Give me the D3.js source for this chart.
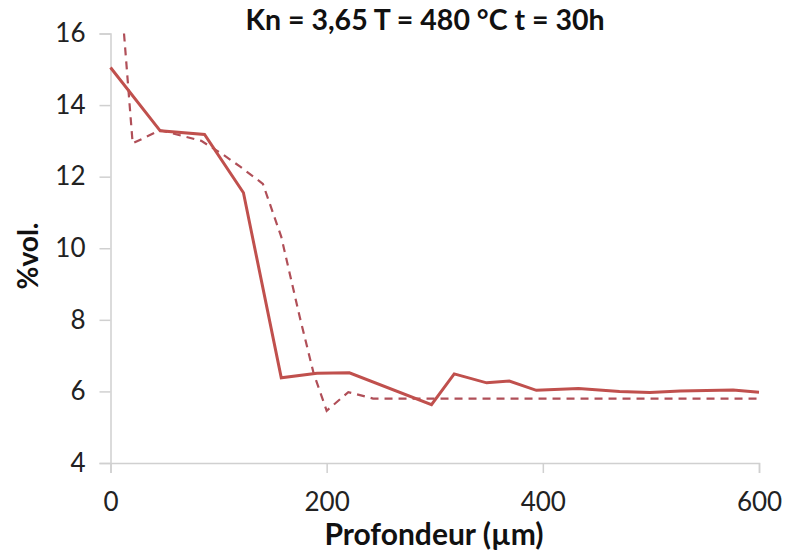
<!DOCTYPE html>
<html><head><meta charset="utf-8">
<script src="https://cdn.jsdelivr.net/npm/d3@7"></script>
<style>body{margin:0;background:#fff}svg{display:block}</style>
</head><body>
<svg id="c" width="787" height="554"></svg>
<script>
const titleText = "Kn = 3,65 T = 480 °C t = 30h";
const xLabel = "Profondeur (µm)";
const yLabel = "%vol.";
const xTicks = [0, 200, 400, 600];
const yTicks = [4, 6, 8, 10, 12, 14, 16];

// measured series (solid)
const solidX = [0, 46, 87, 123, 158, 191, 221, 297, 318, 348, 369, 394, 433, 471, 499, 527, 576, 600];
const solidY = [15.05, 13.28, 13.18, 11.55, 6.38, 6.51, 6.52, 5.63, 6.49, 6.24, 6.29, 6.03, 6.08, 6.0, 5.97, 6.01, 6.04, 5.98];
// model series (dashed)
const dashX = [12.5, 20.5, 46, 84, 104, 120, 141, 158, 175, 188, 200, 220, 243, 600];
const dashY = [16.0, 12.93, 13.3, 13.0, 12.62, 12.28, 11.8, 10.32, 8.09, 6.5, 5.46, 5.98, 5.8, 5.8];

const svg = d3.select("#c");
const x = d3.scaleLinear().domain([0, 600]).range([110.5, 759]);
const y = d3.scaleLinear().domain([4, 16]).range([463, 33.5]);
const axisColor = "#d0d0d0";
const font = "Lato, 'Open Sans', sans-serif";

const gx = svg.append("g").attr("transform", `translate(0,${y(4)})`)
  .call(d3.axisBottom(x).tickValues(xTicks).tickSize(10).tickPadding(20).tickFormat(d3.format("d")));
const gy = svg.append("g").attr("transform", `translate(${x(0)},0)`)
  .call(d3.axisLeft(y).tickValues(yTicks).tickSize(11).tickPadding(14).tickFormat(d3.format("d")));
[gx, gy].forEach(g => {
  g.select(".domain").attr("stroke", axisColor).attr("stroke-width", 1.5);
  g.selectAll(".tick line").attr("stroke", axisColor).attr("stroke-width", 1.5);
  g.selectAll(".tick text").attr("fill", "#222").style("font-family", font).style("font-size", "26px");
});

const solid = solidX.map((v, i) => [v, solidY[i]]);
const dash = dashX.map((v, i) => [v, dashY[i]]);
const line = d3.line().x(d => x(d[0])).y(d => y(d[1]));

svg.append("path").attr("d", line(dash)).attr("fill", "none")
  .attr("stroke", "#b04f58").attr("stroke-width", 2.2).attr("stroke-dasharray", "8,6");
svg.append("path").attr("d", line(solid)).attr("fill", "none")
  .attr("stroke", "#c0504d").attr("stroke-width", 3).attr("stroke-linejoin", "miter");

svg.append("text").attr("x", 425).attr("y", 30).attr("text-anchor", "middle")
  .style("font-family", font).style("font-weight", "bold").style("font-size", "28.5px").attr("fill", "#111")
  .text(titleText);
svg.append("text").attr("x", 434).attr("y", 545).attr("text-anchor", "middle")
  .style("font-family", font).style("font-weight", "bold").style("font-size", "30px").attr("fill", "#111")
  .text(xLabel);
svg.append("text").attr("transform", `translate(38,256) rotate(-90)`).attr("text-anchor", "middle")
  .style("font-family", font).style("font-weight", "bold").style("font-size", "28px").attr("fill", "#111")
  .text(yLabel);
</script>
</body></html>
